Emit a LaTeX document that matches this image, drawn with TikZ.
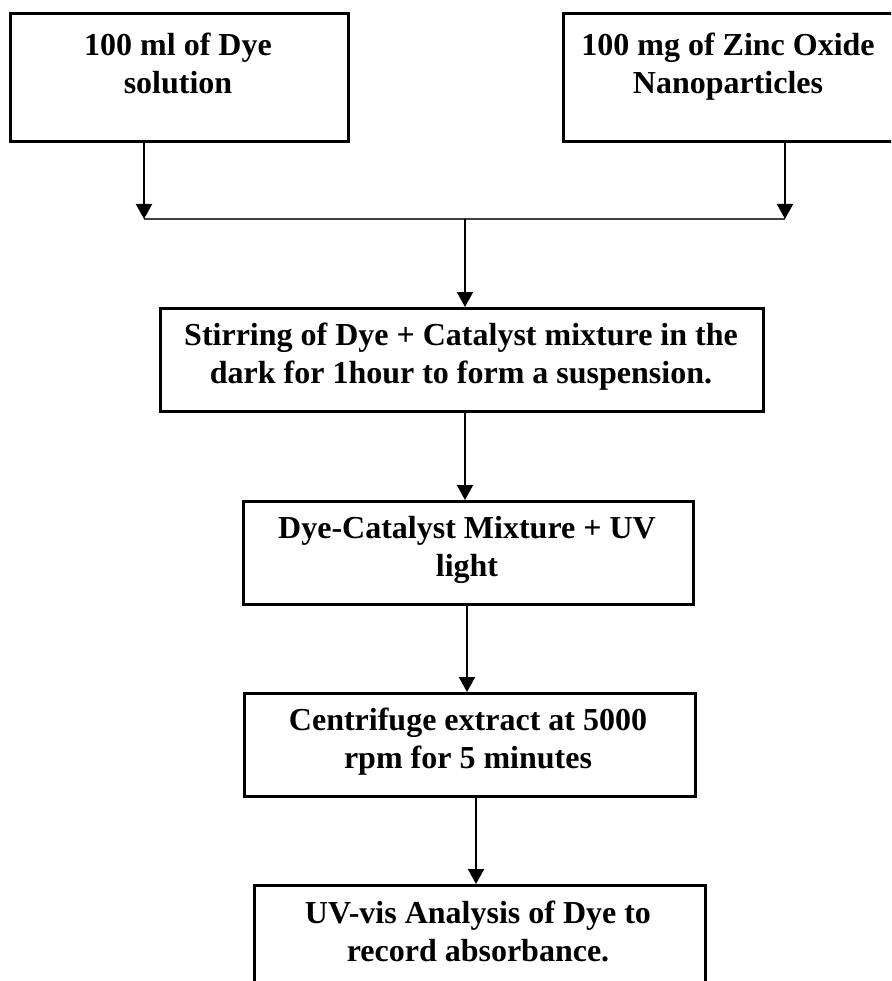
\documentclass[tikz,border=0pt]{standalone}
\usepackage{fontspec}
\setmainfont{Liberation Serif}
\usetikzlibrary{arrows.meta}
\begin{document}
\begin{tikzpicture}[x=1pt,y=-1pt,
  box/.style={draw=black,line width=2.6pt,inner sep=0pt,anchor=north west},
  txt/.style={align=center,inner sep=0pt,font=\fontsize{32}{38}\selectfont\bfseries},
  arr/.style={line width=2pt,-{Triangle[width=16pt,length=15pt]}},
  thin/.style={line width=1.4pt,draw=black!75}]
\useasboundingbox (0,0) rectangle (891,981);
\clip (0,0) rectangle (891,981);
% boxes
\node[box,minimum width=338pt,minimum height=128pt] (b1) at (9,12) {};
\node[box,minimum width=334pt,minimum height=128pt] (b2) at (562,12) {};
\node[box,minimum width=603pt,minimum height=103pt] (b3) at (159,307) {};
\node[box,minimum width=450pt,minimum height=103pt] (b4) at (242,500) {};
\node[box,minimum width=451pt,minimum height=103pt] (b5) at (243,692) {};
\node[box,minimum width=451pt,minimum height=103pt] (b6) at (253,884) {};
% texts
\node[txt] (t1) at (178,63) {100 ml of Dye\\solution};
\node[txt] (t2) at (728,67) {100 mg of Zinc Oxide\\Nanoparticles};
\node[txt] (t3) at (461,357) {Stirring of Dye + Catalyst mixture in the\\dark for 1hour to form a suspension.};
\node[txt] (t4) at (467,550) {Dye-Catalyst Mixture + UV\\light};
\node[txt] (t5) at (468,742) {Centrifuge extract at 5000\\rpm for 5 minutes};
\node[txt] (t6) at (478,931) {UV-vis Analysis of Dye to\\record absorbance.};
% join
\coordinate (jl) at (144,219);
\coordinate (jr) at (785,219);
\coordinate (jm) at (465,219);
\coordinate (xa) at (465,0);
\coordinate (xb) at (467,0);
\coordinate (xc) at (476,0);
\draw[thin] (jl) -- (jr);
\draw[arr] (b1.south -| jl) -- (jl);
\draw[arr] (b2.south -| jr) -- (jr);
\draw[arr] (jm) -- (b3.north -| jm);
\draw[arr] (b3.south -| xa) -- (b4.north -| xa);
\draw[arr] (b4.south -| xb) -- (b5.north -| xb);
\draw[arr] (b5.south -| xc) -- (b6.north -| xc);
\end{tikzpicture}
\end{document}
